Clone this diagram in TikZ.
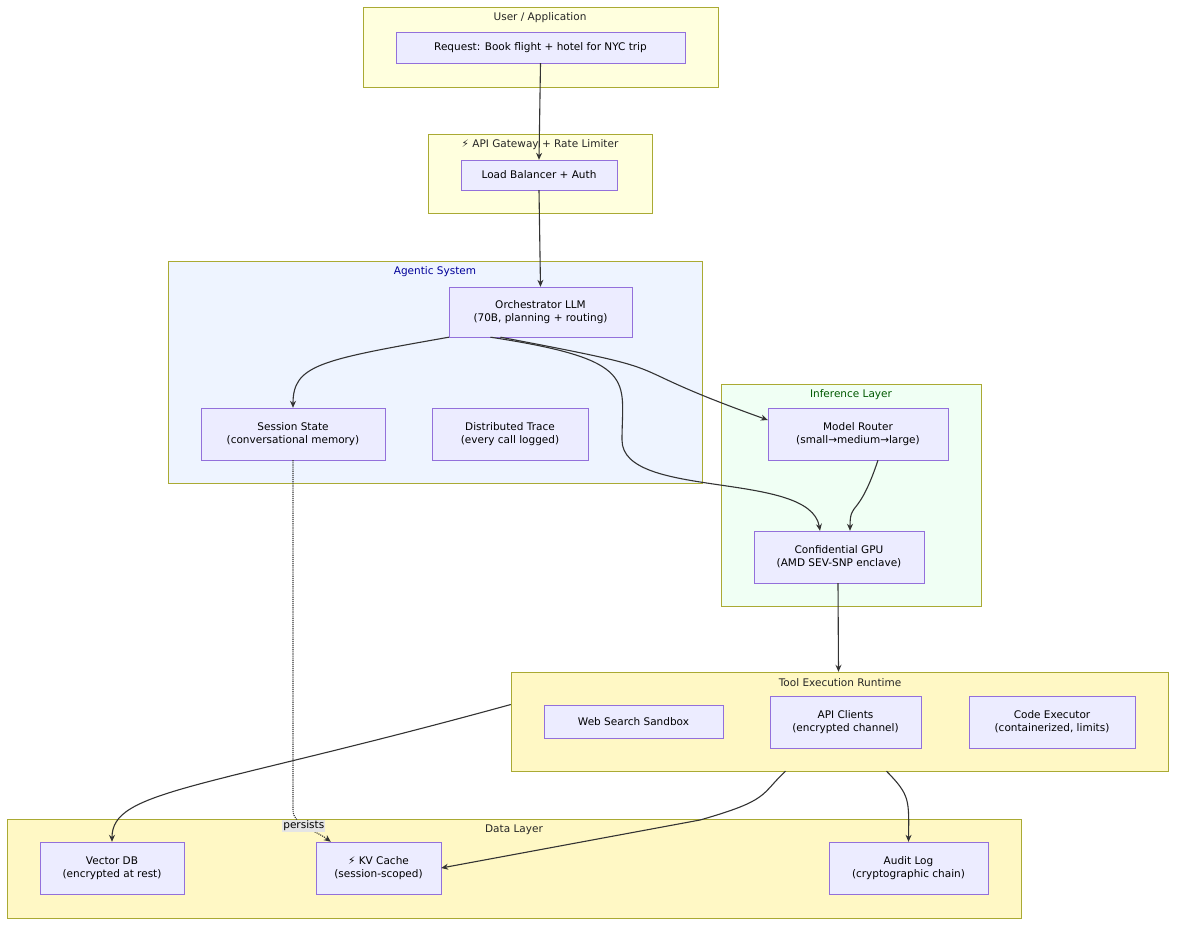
\documentclass[tikz,border=0pt]{standalone}
\usepackage{fontspec}
\setmainfont{DejaVu Sans}
\usetikzlibrary{arrows.meta, positioning, calc}

\definecolor{nodefill}{HTML}{ECECFF}
\definecolor{nodeline}{HTML}{9370DB}
\definecolor{ylwfill}{HTML}{FFFFDE}
\definecolor{ylwline}{HTML}{AAAA33}
\definecolor{bluefill}{HTML}{EEF4FF}
\definecolor{greenfill}{HTML}{F0FFF4}
\definecolor{toolfill}{HTML}{FFF8C5}
\definecolor{edgecol}{HTML}{333333}

\tikzset{
  box/.style={draw=nodeline, fill=nodefill, align=center, font=\fontsize{10.5}{13}\selectfont, inner sep=0pt},
  grp/.style={draw=ylwline, fill=#1, inner sep=0pt},
  ttl/.style={font=\fontsize{10.5}{13}\selectfont, text=#1},
  link/.style={draw=edgecol, line width=1.1pt, -{Stealth[length=7pt,width=6pt]}},
}

\begin{document}
\begin{tikzpicture}[x=1pt,y=-1pt]
  \useasboundingbox (0,0) rectangle (1184,932);
  \newcommand{\grpbox}[6]{\node [grp=#6, minimum width=#4-#2, minimum height=#5-#3] (#1) at ({(#2+#4)/2},{(#3+#5)/2}) {};}
  \newcommand{\nbox}[6]{\node [box, minimum width=#4-#2, minimum height=#5-#3] (#1) at ({(#2+#4)/2},{(#3+#5)/2}) {#6};}

  % clusters
  \grpbox{user}{363}{7}{718}{87}{ylwfill}
  \grpbox{gateway}{428}{134}{652}{213}{ylwfill}
  \grpbox{agentic}{168}{261}{702}{483}{bluefill}
  \grpbox{inference}{721}{384}{981}{606}{greenfill}
  \grpbox{tools}{511}{672}{1168}{771}{toolfill}
  \grpbox{data}{7}{819}{1021}{918}{toolfill}

  \node [ttl=black!85] at (540,18) {User / Application};
  \node [ttl=black!85] at (540,145) {⚡ API Gateway + Rate Limiter};
  \node [ttl=blue!60!black] at (435,272) {Agentic System};
  \node [ttl=green!35!black] at (851,395) {Inference Layer};
  \node [ttl=black!85] at (840,683) {Tool Execution Runtime};
  \node [ttl=black!85] at (514,830) {Data Layer};

  % nodes
  \nbox{request}{396}{32}{685}{63}{Request: Book flight + hotel for NYC trip}
  \nbox{lb}{461}{160}{617}{190}{Load Balancer + Auth}
  \nbox{orch}{449}{287}{632}{337}{Orchestrator LLM\\(70B, planning + routing)}
  \nbox{session}{201}{408}{385}{460}{Session State\\(conversational memory)}
  \nbox{trace}{432}{408}{588}{460}{Distributed Trace\\(every call logged)}
  \nbox{router}{768}{408}{948}{460}{Model Router\\(small→medium→large)}
  \nbox{gpu}{754}{531}{924}{583}{Confidential GPU\\(AMD SEV-SNP enclave)}
  \nbox{web}{544}{705}{723}{738}{Web Search Sandbox}
  \nbox{apic}{770}{696}{921}{748}{API Clients\\(encrypted channel)}
  \nbox{code}{969}{696}{1135}{748}{Code Executor\\(containerized, limits)}
  \nbox{vdb}{40}{842}{184}{894}{Vector DB\\(encrypted at rest)}
  \nbox{kv}{316}{842}{441}{894}{⚡ KV Cache\\(session-scoped)}
  \nbox{audit}{829}{842}{988}{894}{Audit Log\\(cryptographic chain)}

  % connectors
  \draw [link] (request.south) -- (lb.north);
  \draw [link] (lb.south) -- (orch.north);
  \draw [link] (orch.south west) .. controls (320,360) and (293,365) .. (session.north);
  \draw [link] ($(orch.south)+(-40,0)$) .. controls (700,375) and (600,360) .. ($(router.west)+(0,-14)$);
  \draw [link] (orch.south) ++(-50,0) .. controls (640,360) and (622,380) .. (622,440)
    .. controls (622,500) and (810,470) .. ($(gpu.north)+(-19,0)$);
  \draw [link] ($(router.south)+(20,0)$) .. controls (858,520) and (850,500) .. ($(gpu.north)+(11,0)$);
  \draw [link] ($(gpu.south)+(-1,0)$) -- ($(tools.north)+(-1,0)$);
  \draw [link, densely dotted] (session.south) -- (293,810) .. controls (293,825) and (315,830) .. ($(kv.north west)+(15,0)$)
    node [pos=0.45, fill=black!10, inner sep=1pt, font=\fontsize{10.5}{13}\selectfont] {persists};
  \draw [link] ($(tools.west)+(0,-17)$) .. controls (200,790) and (112,790) .. (vdb.north);
  \draw [link] ($(tools.south)+(-54,0)$) .. controls (760,795) and (770,800) .. (700,820) -- (kv.east);
  \draw [link] ($(tools.south)+(47,0)$) .. controls (910,795) and (909,800) .. (audit.north);
\end{tikzpicture}
\end{document}
